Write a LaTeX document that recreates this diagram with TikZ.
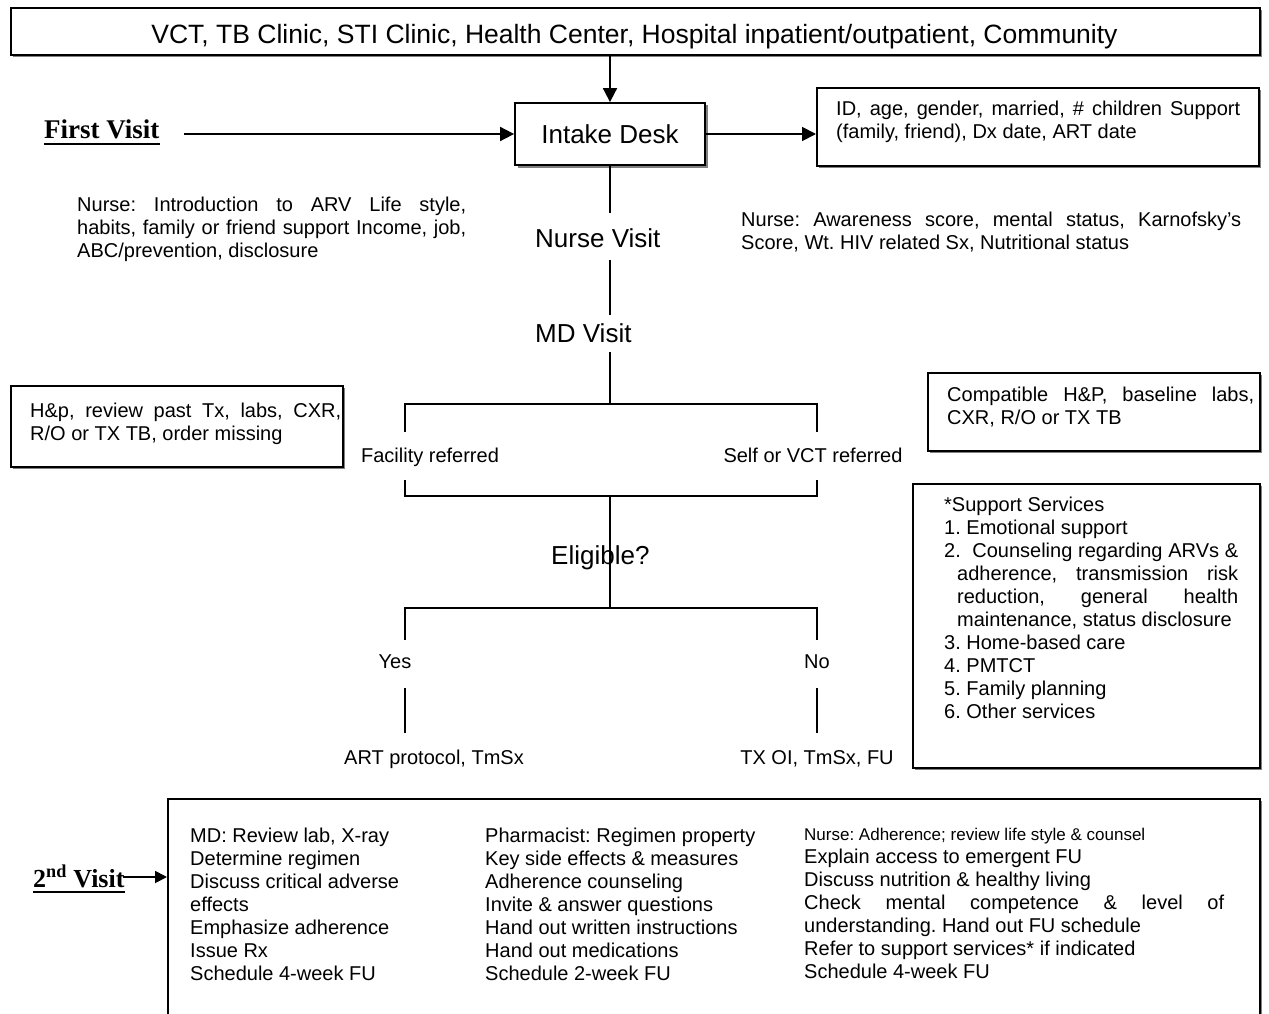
\documentclass[tikz,border=0pt]{standalone}
\usepackage{fontspec}
\setmainfont{Liberation Sans}
\newfontfamily\timesfont{Liberation Serif}
\usetikzlibrary{arrows.meta,shadows}

\newcommand\txtsize{\fontsize{20}{23}\selectfont}
\newcommand\bigsize{\fontsize{26}{30}\selectfont}
% one justified line of a given width
\newcommand\jline[2]{\makebox[#1][s]{#2}}

\begin{document}
\hyphenpenalty=10000
\frenchspacing
\begin{tikzpicture}[x=1pt,y=-1pt,
  box/.style={draw, line width=1.8pt, fill=white, inner sep=0pt, anchor=north west,
    drop shadow={shadow xshift=2.5pt, shadow yshift=-2.5pt, fill=black!50, opacity=1}},
  lines/.style={inner sep=0pt, anchor=north west, font=\txtsize, align=left},
  tag/.style={inner sep=0pt, anchor=base, font=\txtsize},
  stepname/.style={inner sep=0pt, anchor=base west, font=\bigsize},
  visit/.style={inner sep=0pt, anchor=base west, font=\timesfont\bfseries\fontsize{26}{30}\selectfont},
  link/.style={line width=1.8pt},
  arr/.style={link, -{Triangle[length=14pt,width=14pt]}},
  arrsmall/.style={link, -{Triangle[length=12pt,width=12pt]}},
]
\useasboundingbox (0,0) rectangle (1269,1014);

% ---- sources ----
\node[box, minimum width=1249pt, minimum height=47pt] (banner) at (10,7) {};
\node[inner sep=0pt, anchor=base, font=\fontsize{26.5}{30}\selectfont] (bannertext) at (634.5,44)
  {VCT, TB Clinic, STI Clinic, Health Center, Hospital inpatient/outpatient, Community};

% ---- first visit: intake ----
\node[box, anchor=center, minimum width=190pt, minimum height=62pt, font=\bigsize] (intake) at (610,134) {Intake Desk};
\draw[arr] (banner.south -| intake.north) -- (intake.north);

\node[visit, font=\timesfont\bfseries\fontsize{27}{31}\selectfont] (first) at (44,139) {First Visit};
\draw[line width=1.6pt] ([yshift=-5pt]first.base west) -- ([yshift=-5pt]first.base east);
\coordinate (firststart) at (184,134);
\draw[arr] (firststart) -- (intake.west);

\node[box, minimum width=442pt, minimum height=78pt] (idbox) at (816,87) {};
\node[lines] (idtext) at (836,99)
  {\strut\jline{404pt}{ID, age, gender, married, \# children Support}\\(family, friend), Dx date, ART date};
\draw[arr] (intake.east) -- (intake.east -| idbox.west);

% ---- nurse visit ----
\node[lines] (nurseleft) at (77,195)
  {\strut\jline{389pt}{Nurse: Introduction to ARV Life style,}\\
   \jline{389pt}{habits, family or friend support Income, job,}\\
   ABC/prevention, disclosure};
\node[lines] (nurseright) at (741,210)
  {\strut\jline{500pt}{Nurse: Awareness score, mental status, Karnofsky's}\\
   Score, Wt. HIV related Sx, Nutritional status};

\coordinate (nurseA) at (610,213);
\coordinate (nurseB) at (610,260);
\coordinate (mdA) at (610,315);
\coordinate (mdB) at (610,352);
\coordinate (split1) at (610,404);
\node[stepname] (nurse) at (535,247.5) {Nurse Visit};
\node[stepname] (md) at (535,342) {MD Visit};
\draw[link] (intake.south) -- (nurseA);
\draw[link] (nurseB) -- (mdA);
\draw[link] (mdB) -- (split1);

% ---- referral branch ----
\coordinate (facTop) at (405,432);
\coordinate (facCorner) at (405,404);
\coordinate (selfCorner) at (817,404);
\coordinate (selfTop) at (817,432);
\draw[link] (facTop) -- (facCorner) -- (selfCorner) -- (selfTop);
\node[tag] (facility) at (430,462) {Facility referred};
\node[tag] (selfref) at (813,462) {Self or VCT referred};
\coordinate (facBot) at (405,480);
\coordinate (joinL) at (405,496);
\coordinate (joinR) at (817,496);
\coordinate (selfBot) at (817,480);
\draw[link] (facBot) -- (joinL) -- (joinR) -- (selfBot);

\node[box, minimum width=332pt, minimum height=81pt] (hpbox) at (10,385) {};
\node[lines] (hptext) at (30,401)
  {\strut\jline{311pt}{H\&p, review past Tx, labs, CXR,}\\R/O or TX TB, order missing};
\node[box, minimum width=332pt, minimum height=78pt] (compbox) at (927,372) {};
\node[lines] (comptext) at (947,385)
  {\strut\jline{307pt}{Compatible H\&P, baseline labs,}\\CXR, R/O or TX TB};

% ---- eligibility ----
\coordinate (join) at (610,496);
\coordinate (split2) at (610,608);
\node[stepname] (eligible) at (551,564) {Eligible?};
\draw[link] (join) -- (split2);
\coordinate (yesTop) at (405,640);
\coordinate (yesCorner) at (405,608);
\coordinate (noCorner) at (817,608);
\coordinate (noTop) at (817,640);
\draw[link] (yesTop) -- (yesCorner) -- (noCorner) -- (noTop);
\node[tag] (yes) at (395,668) {Yes};
\node[tag] (no) at (817,668) {No};
\coordinate (yesA) at (405,688);
\coordinate (yesB) at (405,733);
\coordinate (noA) at (817,688);
\coordinate (noB) at (817,733);
\draw[link] (yesA) -- (yesB);
\draw[link] (noA) -- (noB);
\node[tag] (art) at (434,764) {ART protocol, TmSx};
\node[tag] (txoi) at (817,764) {TX OI, TmSx, FU};

% ---- support services ----
\node[box, minimum width=347pt, minimum height=284pt] (supportbox) at (912,483) {};
\node[lines] (supporttext) at (944,495)
  {\strut *Support Services\\
   1. Emotional support\\
   \jline{294pt}{2. \ Counseling regarding ARVs \&}\\
   \hspace*{13pt}\jline{281pt}{adherence, transmission risk}\\
   \hspace*{13pt}\jline{281pt}{reduction, general health}\\
   \hspace*{13pt}maintenance, status disclosure\\
   3. Home-based care\\
   4. PMTCT\\
   5. Family planning\\
   6. Other services};

% ---- second visit ----
\node[box, minimum width=1092pt, minimum height=260pt] (visit2box) at (167,798) {};
\node[visit] (second) at (33,887) {2\textsuperscript{nd} Visit};
\draw[line width=1.6pt] ([yshift=-5pt]second.base west) -- ([yshift=-5pt]second.base east);
\coordinate (secondend) at (123,877);
\draw[arrsmall] (secondend) -- (secondend -| visit2box.west);

\node[lines] (mdcol) at (190,826)
  {\strut MD: Review lab, X-ray\\Determine regimen\\Discuss critical adverse\\effects\\Emphasize adherence\\Issue Rx\\Schedule 4-week FU};
\node[lines] (pharmcol) at (485,826)
  {\strut Pharmacist: Regimen property\\Key side effects \& measures\\Adherence counseling\\Invite \& answer questions\\Hand out written instructions\\Hand out medications\\Schedule 2-week FU};
\node[inner sep=0pt, anchor=base west, font=\fontsize{17}{20}\selectfont] (nursehead) at (804,840)
  {Nurse: Adherence; review life style \& counsel};
\node[lines] (nursecol) at (804,847)
  {\strut Explain access to emergent FU\\
   Discuss nutrition \& healthy living\\
   \jline{420pt}{Check mental competence \& level of}\\
   understanding. Hand out FU schedule\\
   Refer to support services* if indicated\\
   Schedule 4-week FU};
\end{tikzpicture}
\end{document}
